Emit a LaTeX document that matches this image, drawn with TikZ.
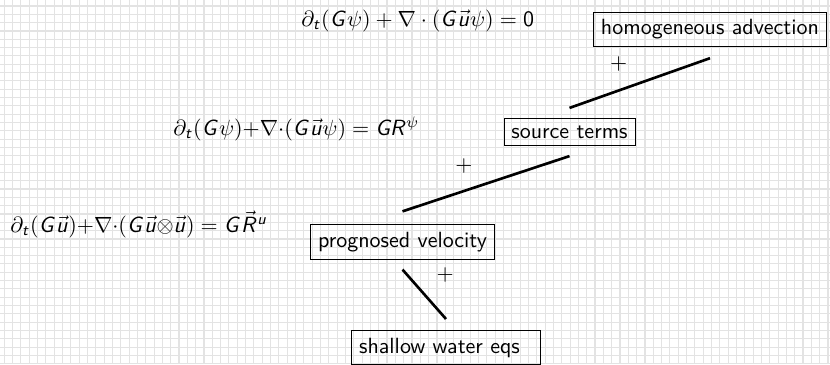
\documentclass[tikz,border=0pt]{standalone}
\usepackage{amsmath}
\DeclareMathAlphabet{\mathsfit}{OT1}{cmss}{m}{sl}
\newcommand{\sfG}{\mathsfit{G}}
\newcommand{\sfR}{\mathsfit{R}}
\newcommand{\sfu}{\vec{\mathsfit{u}}}
\begin{document}
\begin{tikzpicture}[x=0.4545pt,y=-0.4545pt]
\tikzset{
  gridln/.style={draw=black!11,line width=0.5pt},
  box/.style={draw,line width=0.4pt,font=\sffamily},
  eqn/.style={inner sep=0pt,anchor=base west},
  link/.style={line width=1.2pt},
  plus/.style={inner sep=0pt}
}
\useasboundingbox (0,0) rectangle (830,364);
\foreach \i in {0,...,99} \draw[gridln] ({4.3+8.32*\i},0) -- ({4.3+8.32*\i},364);
\foreach \j in {0,...,43} \draw[gridln] (0,{6+8.32*\j}) -- (830,{6+8.32*\j});

\node[box] (hom) at (710,29.5) {homogeneous advection};
\node[box] (src) at (569.5,132) {source terms};
\node[box] (prog) at (402.5,242) {prognosed velocity};
\node[box,text width=79pt,align=left,anchor=north] (sw) at (446,330) {shallow water eqs};

\node[eqn] (e1) at (301,26) {$\partial_{\mathsfit{t}}(\sfG\psi) + \nabla\cdot(\sfG\sfu\psi) = \mathsf{0}$};
\node[eqn] (e2) at (173,135) {$\partial_{\mathsfit{t}}(\sfG\psi){+}\nabla{\cdot}(\sfG\sfu\psi) = \sfG\sfR^{\psi}$};
\node[eqn] (e3) at (10,232) {$\partial_{\mathsfit{t}}(\sfG\sfu){+}\nabla{\cdot}(\sfG\sfu{\otimes}\sfu) = \sfG\vec{\sfR}^{\mathsfit{u}}$};

\draw[link] ([yshift=4.5pt]src.north) -- node[plus,shift={(-21,-19)}]{$+$} ([yshift=-5pt]hom.south);
\draw[link] ([yshift=5.9pt]prog.north) -- node[plus,shift={(-22,-18)}]{$+$} ([yshift=-4.5pt]src.south);
\draw[link] ([yshift=-4.5pt]prog.south) -- node[plus,shift={(21,-19)}]{$+$} ([yshift=5pt]sw.north);
\end{tikzpicture}
\end{document}
